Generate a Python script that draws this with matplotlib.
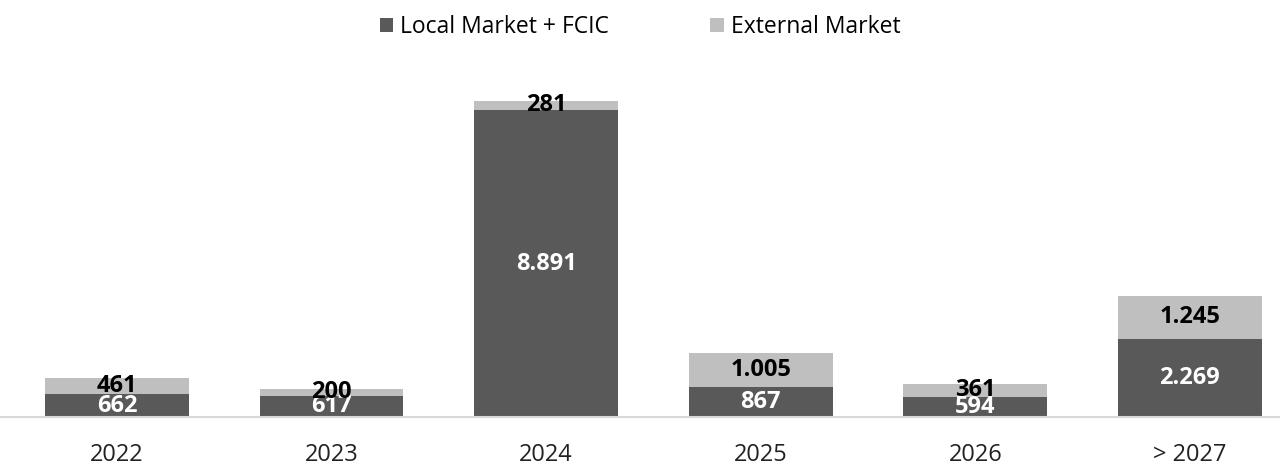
import numpy as np
import matplotlib.pyplot as plt

categories = ['2022', '2023', '2024', '2025', '2026', '> 2027']
local_fcic = [662, 617, 8891, 867, 594, 2269]
external = [461, 200, 281, 1005, 361, 1245]

plt.rcParams['font.family'] = ['Open Sans', 'DejaVu Sans']

dark = '#595959'
light = '#bfbfbf'

def fmt(v):
    # thousands separator as a dot
    return '{:,}'.format(v).replace(',', '.')

fig = plt.figure(figsize=(12.8, 4.65), dpi=100)
ax = fig.add_axes([0.0, 0.103, 1.0, 0.725])

x = np.arange(len(categories))
w = 0.67
b1 = ax.bar(x, local_fcic, w, color=dark, label='Local Market + FCIC')
b2 = ax.bar(x, external, w, bottom=local_fcic, color=light, label='External Market')

for i in range(len(categories)):
    ax.text(x[i], local_fcic[i] / 2, fmt(local_fcic[i]), ha='center', va='center',
            color='white', fontsize=17, fontweight='bold')
    ax.text(x[i], local_fcic[i] + external[i] / 2, fmt(external[i]), ha='center',
            va='center', color='black', fontsize=17, fontweight='bold')

ax.set_xlim(-0.545, 5.42)
ax.set_ylim(0, 9770)
ax.set_xticks(x)
ax.set_xticklabels(categories, fontsize=17, color='#222222')
ax.tick_params(axis='x', length=0, pad=19)
ax.set_yticks([])
for s in ['top', 'right', 'left']:
    ax.spines[s].set_visible(False)
ax.spines['bottom'].set_color('#d9d9d9')
ax.spines['bottom'].set_linewidth(1.5)

fig.legend(handles=[b1, b2], loc='upper center', bbox_to_anchor=(0.5, 1.012), ncol=2,
           frameon=False, fontsize=16.5, handlelength=0.6, handleheight=0.6,
           handletextpad=0.3, columnspacing=4.4)

fig.savefig('out.png', dpi=100)
